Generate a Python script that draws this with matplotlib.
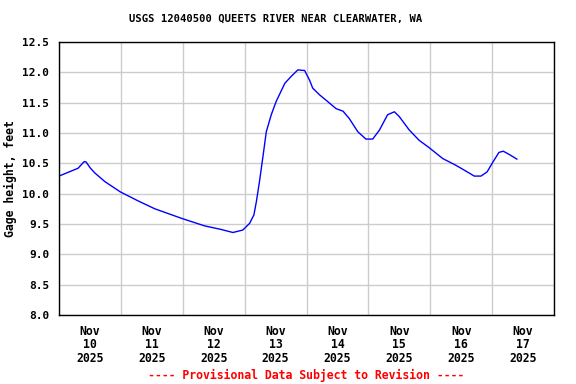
import pandas as pd
import matplotlib
matplotlib.use("Agg")
import matplotlib.pyplot as plt

# gage height readings (days since Nov 10 00:00, feet)
days = [0.00, 0.31, 0.38, 0.41, 0.44, 0.50, 0.58, 0.74, 0.99, 1.28, 1.55, 1.99, 2.35, 2.62,
        2.81, 2.97, 3.08, 3.15, 3.19, 3.24, 3.30, 3.35, 3.43, 3.51, 3.65, 3.75,
        3.86, 3.97, 4.05, 4.10, 4.21, 4.34, 4.48, 4.59, 4.69, 4.83, 4.96, 5.07,
        5.18, 5.31, 5.42, 5.50, 5.66, 5.82, 5.98, 6.20, 6.41, 6.63, 6.71, 6.82,
        6.92, 7.00, 7.11, 7.18, 7.27, 7.40]
gage = [10.29, 10.42, 10.50, 10.53, 10.52, 10.43, 10.34, 10.20, 10.03, 9.88, 9.75, 9.59, 9.47, 9.41,
        9.36, 9.40, 9.51, 9.65, 9.87, 10.20, 10.64, 11.02, 11.30, 11.52, 11.82, 11.93,
        12.04, 12.03, 11.87, 11.74, 11.63, 11.52, 11.40, 11.36, 11.24, 11.02, 10.90, 10.90,
        11.05, 11.30, 11.35, 11.27, 11.05, 10.88, 10.76, 10.58, 10.47, 10.34, 10.29, 10.29,
        10.36, 10.50, 10.68, 10.70, 10.65, 10.57]
day_labels = ["Nov\n10\n2025", "Nov\n11\n2025", "Nov\n12\n2025", "Nov\n13\n2025",
              "Nov\n14\n2025", "Nov\n15\n2025", "Nov\n16\n2025", "Nov\n17\n2025"]

start = pd.Timestamp("2025-11-10")
times = start + pd.to_timedelta(days, unit="D")

plt.rcParams['font.family'] = 'DejaVu Sans Mono'
plt.rcParams['font.weight'] = 'bold'

fig = plt.figure(figsize=(5.76, 3.84), dpi=100)
ax = fig.add_axes([59/576, 1 - 315/384, (554 - 59)/576, (315 - 42)/384])

ax.plot(times, gage, color='#0000ff', lw=1)

ax.set_xlim(start, start + pd.Timedelta(days=8))
ax.set_ylim(8.0, 12.5)

# grid at midnight, labels at noon
midnights = pd.date_range(start, periods=9, freq="D")
noons = midnights[:-1] + pd.Timedelta(hours=12)
ax.set_xticks(midnights)
ax.set_xticklabels([""] * len(midnights))
ax.set_xticks(noons, minor=True)
ax.set_xticklabels(day_labels, minor=True, fontsize=8.3, fontweight='bold', linespacing=1.05)
ax.tick_params(axis='x', which='both', length=0, pad=7)

yt = [8.0 + 0.5 * i for i in range(10)]
ax.set_yticks(yt)
ax.set_yticklabels([f"{v:.1f}" for v in yt], fontsize=8, fontweight='bold')
ax.tick_params(axis='y', length=0, pad=7)

ax.grid(True, which='major', color='#cccccc', lw=1)
ax.set_axisbelow(True)
for s in ax.spines.values():
    s.set_color('black')
    s.set_linewidth(1)

ax.set_ylabel("Gage height, feet", fontsize=8.3, fontweight='bold', labelpad=4)
fig.text(276/576, 1 - 19/384, "USGS 12040500 QUEETS RIVER NEAR CLEARWATER, WA",
         ha='center', va='center', fontsize=7.6, fontweight='bold')
fig.text(306/576, 1 - 375/384, "---- Provisional Data Subject to Revision ----",
         ha='center', va='center', fontsize=8.3, fontweight='bold', color='red')

fig.savefig("out.png", dpi=100)
